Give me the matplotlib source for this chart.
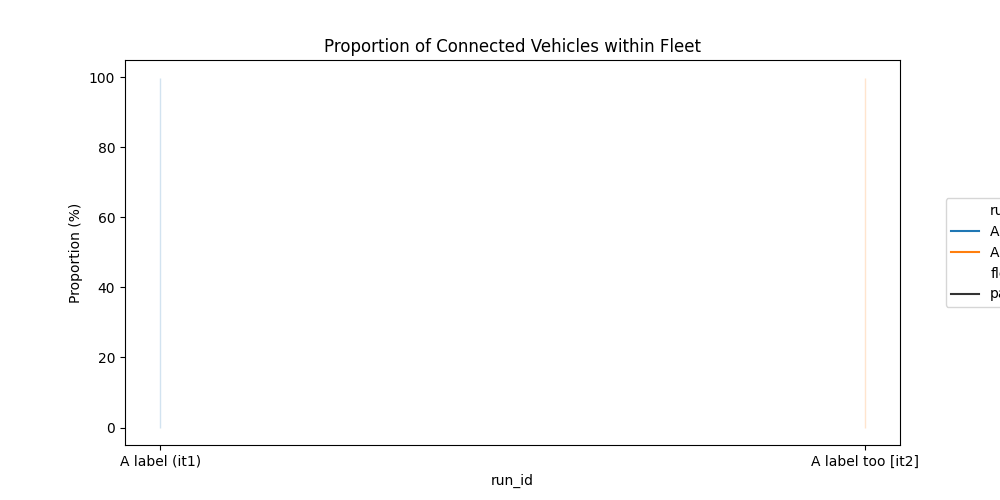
import matplotlib
matplotlib.use("Agg")
import matplotlib.pyplot as plt
from matplotlib.lines import Line2D

# Data
run_ids = ["A label (it1)", "A label too [it2]"]
band_low = [0.0, 0.0]
band_high = [99.9, 99.9]
fleets = ["passenger"]

colors = ["#1f77b4", "#ff7f0e"]

fig, ax = plt.subplots(figsize=(10, 5), dpi=100)

for i, (lo, hi) in enumerate(zip(band_low, band_high)):
    ax.fill_between([i, i], [lo, lo], [hi, hi], color=colors[i], alpha=0.2)
    ax.plot([i], [(lo + hi) / 2], color=colors[i])

ax.set_xticks(range(len(run_ids)))
ax.set_xticklabels(run_ids)
ax.set_xlabel("run_id")
ax.set_ylabel("Proportion (%)")
ax.set_title("Proportion of Connected Vehicles within Fleet")

handles = [Line2D([], [], linestyle="none", visible=False)]
labels = ["run_id"]
for c, r in zip(colors, run_ids):
    handles.append(Line2D([], [], color=c, lw=1.5))
    labels.append(r)
handles.append(Line2D([], [], linestyle="none", visible=False))
labels.append("fleet")
for f in fleets:
    handles.append(Line2D([], [], color="#333333", lw=1.5))
    labels.append(f)

ax.legend(handles, labels, loc="center left", bbox_to_anchor=(1.05, 0.5))

fig.savefig("out.png")
